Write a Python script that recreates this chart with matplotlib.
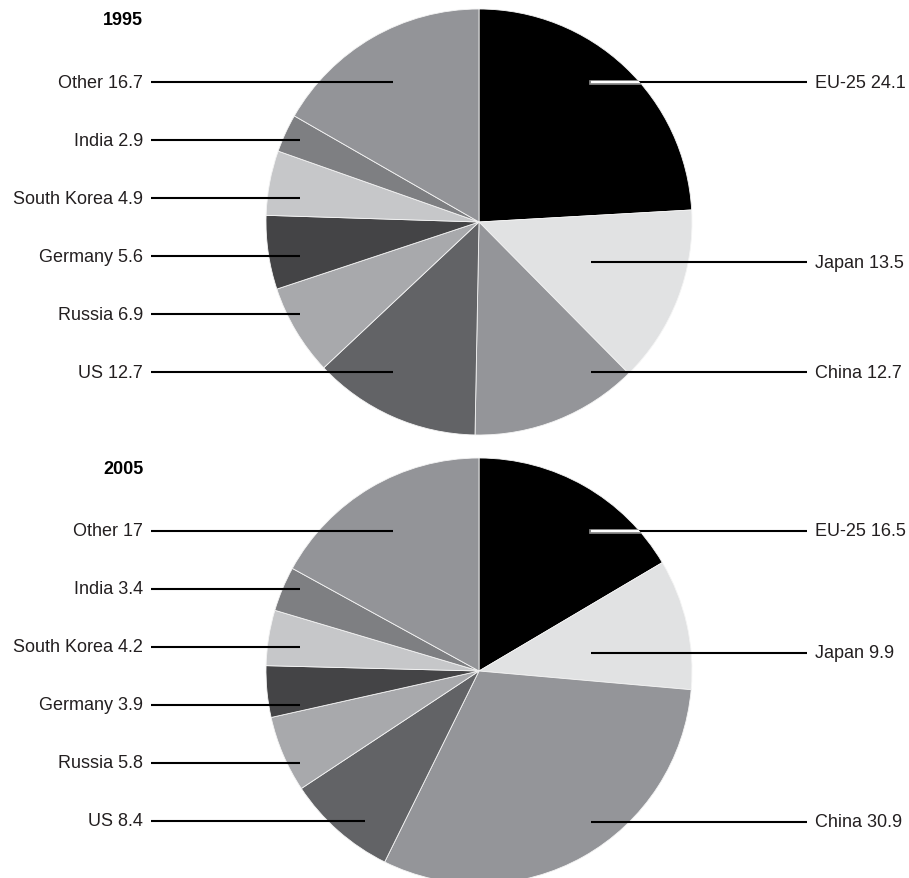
import matplotlib
matplotlib.use("Agg")
import matplotlib.pyplot as plt

# Shares of world steel production (%), two survey years
regions = ["EU-25", "Japan", "China", "US", "Russia", "Germany",
           "South Korea", "India", "Other"]
share_1995 = [24.1, 13.5, 12.7, 12.7, 6.9, 5.6, 4.9, 2.9, 16.7]
share_2005 = [16.5, 9.9, 30.9, 8.4, 5.8, 3.9, 4.2, 3.4, 17]
years = ["1995", "2005"]

colors = ["#000000", "#e1e2e3", "#949599", "#626366", "#a8a9ac",
          "#444446", "#c6c7c9", "#7e7f82", "#939498"]

W, H = 909, 879
fig = plt.figure(figsize=(W / 100, H / 100), dpi=100)
ax = fig.add_axes([0, 0, 1, 1])
ax.set_xlim(0, W)
ax.set_ylim(0, H)
ax.set_aspect("equal")
ax.axis("off")

TXT = "#231f20"
FONT = "Liberation Sans"
LW = 1.5

cx = 479
radius = 213
# screen-space pie centres (pixels from top)
centres_px = [223, 672]

left_order = ["Other", "India", "South Korea", "Germany", "Russia", "US"]
left_dy = [-140, -82, -24, 34, 92, 150]
right_order = ["EU-25", "Japan", "China"]
right_dy = {"1995": [-140, 40, 150], "2005": [-140, -18, 151]}
left_end = {"1995": {"Other": 393, "US": 393},
            "2005": {"Other": 393, "US": 365}}

for year, vals, cy_px in zip(years, [share_1995, share_2005], centres_px):
    cy = H - cy_px
    wedges, _ = ax.pie(vals, colors=colors, startangle=90, counterclock=False,
                       center=(cx, cy), radius=radius,
                       wedgeprops=dict(edgecolor="#f4f4f4", linewidth=0.6))
    ax.set_xlim(0, W)
    ax.set_ylim(0, H)

    ax.text(123, H - (cy_px - 203), year, ha="center", va="center",
            fontsize=13, fontweight="bold", color="#000000", family=FONT)

    for name, dy in zip(left_order, left_dy):
        i = regions.index(name)
        y = H - (cy_px + dy)
        x_end = left_end[year].get(name, 300)
        ax.plot([151, x_end], [y, y], color="#000000", lw=LW,
                solid_capstyle="butt", zorder=3)
        ax.text(143, y, f"{name} {vals[i]:g}", ha="right", va="center",
                fontsize=13, color=TXT, family=FONT)

    for name, dy in zip(right_order, right_dy[year]):
        i = regions.index(name)
        y = H - (cy_px + dy)
        ax.plot([591, 807], [y, y], color="#000000", lw=LW,
                solid_capstyle="butt", zorder=3)
        if name == "EU-25":
            # light core so the leader reads against the black wedge
            edge, = ax.plot([591, 807], [y, y], color="#8a8a8a", lw=3.4,
                            solid_capstyle="projecting", zorder=4)
            core, = ax.plot([591, 807], [y, y], color="#ffffff", lw=1.6,
                            solid_capstyle="butt", zorder=5)
            edge.set_clip_path(wedges[i])
            core.set_clip_path(wedges[i])
        ax.text(815, y, f"{name} {vals[i]:g}", ha="left", va="center",
                fontsize=13, color=TXT, family=FONT)

fig.savefig("out.png", dpi=100, facecolor="white")
